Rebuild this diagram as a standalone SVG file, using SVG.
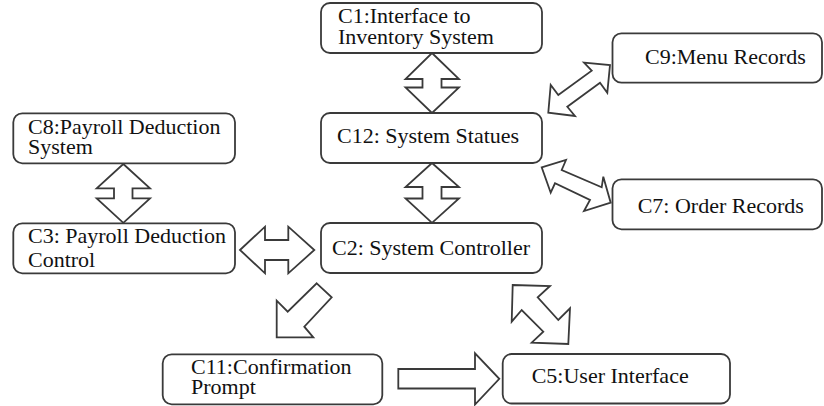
<svg xmlns="http://www.w3.org/2000/svg" width="824" height="406" viewBox="0 0 824 406">
<style>
.box{fill:#fff;stroke:#3a3a3a;stroke-width:1.8}
.arr{fill:#fff;stroke:#3a3a3a;stroke-width:1.8;stroke-linejoin:miter}
.t{font-family:'Liberation Serif','Times New Roman',Tinos,'DejaVu Serif',serif;font-size:22px;fill:#111}
</style>
<rect width="824" height="406" fill="#fff"/>
<g id="connectors">
<polygon class="arr" points="432,53 459,79 441.5,79 441.5,87.5 459,87.5 432,113 405.5,87.5 422.5,87.5 422.5,79 405.5,79"/>
<polygon class="arr" points="432,163 459,187 441.5,187 441.5,198.5 459,198.5 432,222.8 405.5,198.5 422.5,198.5 422.5,187 405.5,187"/>
<polygon class="arr" points="123.3,164 150,188.3 132.5,188.3 132.5,198.3 150,198.3 123.3,222.8 96.7,198.3 114,198.3 114,188.3 96.7,188.3"/>
<polygon class="arr" points="240,250 265,226.7 265,240 288.3,240 288.3,226.7 314.3,250 288.3,273.3 288.3,260 265,260 265,273.3"/>
<polygon class="arr" points="398.3,369 475,369 475,353.3 499.3,378.8 475,404.5 475,388.5 398.3,388.5"/>
<polygon class="arr" points="316.7,283.3 331.7,297.3 304.3,326.7 313.3,337.3 276.7,337.3 276.7,300.7 287.7,311.7"/>
<polygon class="arr" points="512.7,285 550,286 537.7,297.3 558.3,320 570,308.3 568.3,344 531.7,342.7 543.3,331.7 521.7,310 511.7,321.7"/>
<polygon class="arr" points="548.3,112.7 550.7,85 558.3,95 591.7,70.7 584,62.7 610,65 607.3,92.7 600,82.7 567.3,106.7 575,116"/>
<polygon class="arr" points="541.7,167.3 566,160 561.7,170 601.7,187.3 603.3,176.7 610.7,202.7 584,211 590,200 555,183.3 550.7,192.7"/>
</g>
<g id="C1"><rect class="box" x="321" y="3" width="221" height="50" rx="9"/><text class="t" x="338" y="23">C1:Interface to</text><text class="t" x="338" y="44.3">Inventory System</text></g>
<g id="C12"><rect class="box" x="321" y="113" width="221" height="50" rx="9"/><text class="t" x="337" y="143">C12: System Statues</text></g>
<g id="C2"><rect class="box" x="321" y="223" width="221" height="50" rx="9"/><text class="t" x="332" y="255">C2: System Controller</text></g>
<g id="C9"><rect class="box" x="612.5" y="33.3" width="209.5" height="49.4" rx="9"/><text class="t" x="645" y="64.3">C9:Menu Records</text></g>
<g id="C7"><rect class="box" x="612.5" y="179.3" width="209.5" height="50" rx="9"/><text class="t" x="637.7" y="213.3">C7: Order Records</text></g>
<g id="C8"><rect class="box" x="13.3" y="113.3" width="221.7" height="50" rx="9"/><text class="t" x="28" y="134.3">C8:Payroll Deduction</text><text class="t" x="28" y="154">System</text></g>
<g id="C3"><rect class="box" x="13.3" y="223.3" width="221.7" height="50" rx="9"/><text class="t" x="28" y="243.3">C3: Payroll Deduction</text><text class="t" x="28" y="266.7">Control</text></g>
<g id="C11"><rect class="box" x="162.7" y="354.3" width="219.6" height="50" rx="9"/><text class="t" x="191" y="374">C11:Confirmation</text><text class="t" x="191" y="394">Prompt</text></g>
<g id="C5"><rect class="box" x="502.7" y="354" width="227.3" height="49.5" rx="9"/><text class="t" x="531.7" y="383.3">C5:User Interface</text></g>
</svg>
